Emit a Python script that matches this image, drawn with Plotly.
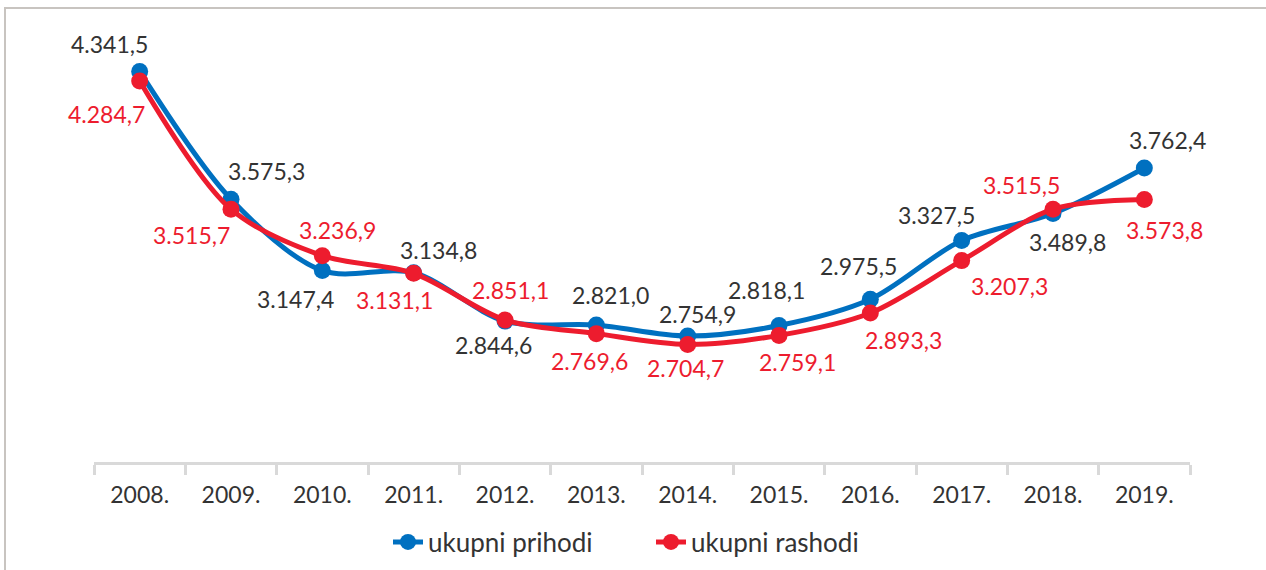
import plotly.graph_objects as go

# Categories and series values
years = ["2008.", "2009.", "2010.", "2011.", "2012.", "2013.",
         "2014.", "2015.", "2016.", "2017.", "2018.", "2019."]
prihodi = [4341.5, 3575.3, 3147.4, 3134.8, 2844.6, 2821.0,
           2754.9, 2818.1, 2975.5, 3327.5, 3489.8, 3762.4]
rashodi = [4284.7, 3515.7, 3236.9, 3131.1, 2851.1, 2769.6,
           2704.7, 2759.1, 2893.3, 3207.3, 3515.5, 3573.8]

# Label offsets (px) from each marker: (dx, dy), dy positive = upward
prihodi_off = [(-30, 27), (35, 28), (-27, -28), (25, 23), (-12, -24), (14, 30),
               (10, 22), (-13, 36), (-12, 33), (-25, 26), (14, -28), (23, 28)]
rashodi_off = [(-33, -33), (-40, -26), (15, 26), (-19, -27), (5, 30), (-7, -27),
               (-2, -24), (18, -27), (33, -27), (48, -25), (-32, 24), (20, -31)]

BLUE = "#0070C0"
RED = "#ED1C2E"
TEXT = "#333333"
FONT = "Lato"
FSIZE = 23


def fmt(v):
    s = f"{v:,.1f}"
    return s.replace(",", "X").replace(".", ",").replace("X", ".")


fig = go.Figure()
fig.add_trace(go.Scatter(
    x=years, y=prihodi, name="ukupni prihodi", mode="lines+markers",
    line=dict(color=BLUE, width=5, shape="spline", smoothing=0.9),
    marker=dict(color=BLUE, size=17),
))
fig.add_trace(go.Scatter(
    x=years, y=rashodi, name="ukupni rashodi", mode="lines+markers",
    line=dict(color=RED, width=5, shape="spline", smoothing=0.9),
    marker=dict(color=RED, size=17),
))

for vals, offs, col in ((prihodi, prihodi_off, TEXT), (rashodi, rashodi_off, RED)):
    for i, (v, (dx, dy)) in enumerate(zip(vals, offs)):
        fig.add_annotation(
            x=i, y=v, xref="x", yref="y", text=fmt(v), showarrow=False,
            xshift=dx, yshift=dy,
            font=dict(family=FONT, size=FSIZE, color=col),
        )

fig.update_layout(
    width=1266, height=570,
    margin=dict(l=94, r=76, t=45, b=108, autoexpand=False),
    paper_bgcolor="white", plot_bgcolor="white",
    font=dict(family=FONT, size=FSIZE, color=TEXT),
    showlegend=True,
    legend=dict(orientation="h", x=(388 - 94) / 1096, xanchor="left", y=-0.192,
                yanchor="middle", entrywidth=218, entrywidthmode="pixels",
                font=dict(family=FONT, size=26, color=TEXT)),
    shapes=[dict(type="rect", xref="paper", yref="paper",
                 x0=-89 / 1096, x1=1.2, y0=-0.5, y1=1 + 37 / 417,
                 line=dict(color="#C8C4C0", width=2), layer="below")],
)
fig.update_xaxes(
    type="category", range=[-0.5, 11.5],
    showline=True, linecolor="#D9D9D9", linewidth=3,
    ticks="outside", tickson="boundaries", ticklen=10, tickwidth=3, tickcolor="#D9D9D9",
    showgrid=False, ticklabelstandoff=10,
    tickfont=dict(family=FONT, size=FSIZE, color=TEXT),
)
fig.update_yaxes(range=[2000, 4500], visible=False, showgrid=False)

fig.write_html("out.html")
